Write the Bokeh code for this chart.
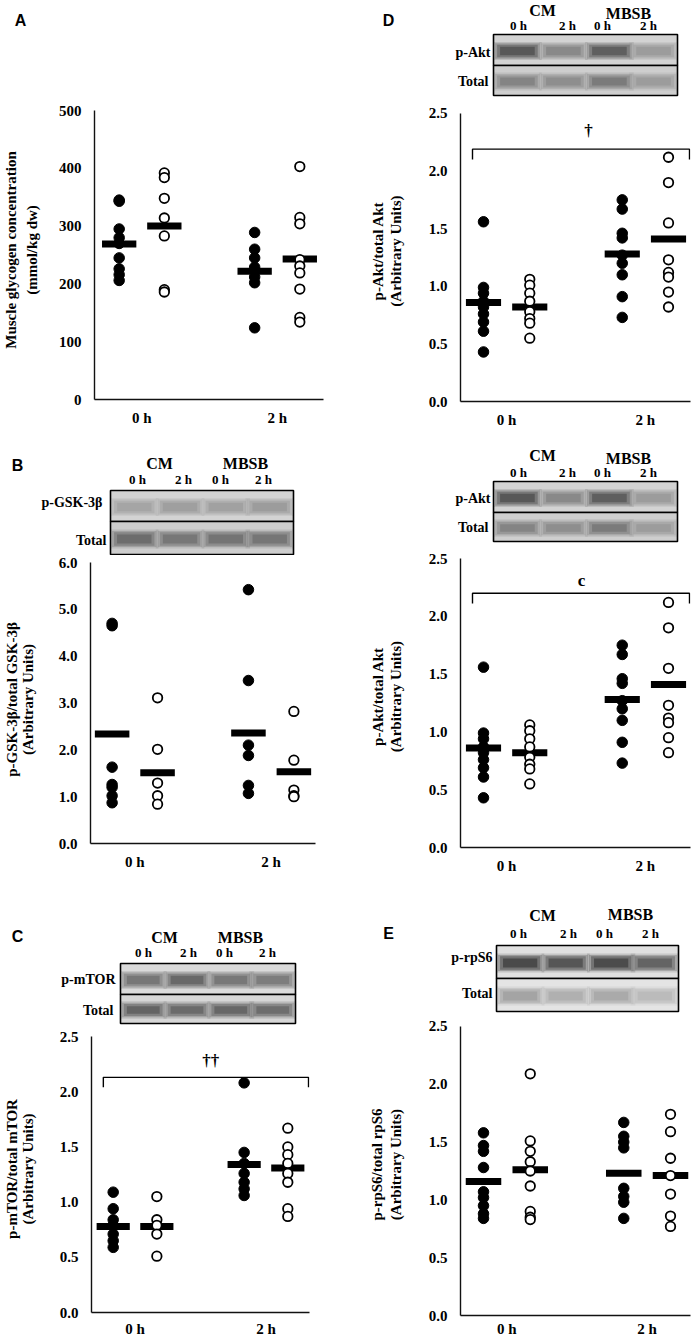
import math
from bokeh.plotting import figure
from bokeh.models import Range1d, FixedTicker, Label, NumeralTickFormatter
from bokeh.layouts import column, row
from bokeh.embed import file_html
from bokeh.resources import INLINE

# ---------------- data ----------------
groups = ["CM 0 h", "MBSB 0 h", "CM 2 h", "MBSB 2 h"]
time_labels = ["0 h", "2 h"]

# A: muscle glycogen (mmol/kg dw)
a_cm_0 = [345, 343, 295, 280, 270, 245, 226, 216, 206]
a_mb_0 = [392, 384, 348, 314, 283, 190, 186]
a_cm_2 = [289, 260, 245, 229, 212, 202, 124]
a_mb_2 = [403, 315, 304, 242, 231, 219, 191, 142, 134]
a_means = [269, 300, 222, 243]
a_ticks = [0, 100, 200, 300, 400, 500]

# B: p-GSK-3b / total GSK-3b
b_cm_0 = [4.70, 4.65, 1.63, 1.26, 1.20, 1.02, 0.87]
b_mb_0 = [3.11, 2.01, 1.29, 1.02, 0.84]
b_cm_2 = [5.42, 3.48, 2.10, 1.88, 1.24, 1.07]
b_mb_2 = [2.82, 1.78, 1.14, 1.02, 1.00]
b_means = [2.34, 1.51, 2.36, 1.53]
b_ticks = [0, 1, 2, 3, 4, 5, 6]

# C: p-mTOR / total mTOR
c_cm_0 = [1.09, 0.94, 0.84, 0.79, 0.71, 0.65, 0.59]
c_mb_0 = [1.05, 0.84, 0.79, 0.71, 0.51]
c_cm_2 = [2.08, 1.45, 1.35, 1.26, 1.18, 1.12, 1.06]
c_mb_2 = [1.67, 1.50, 1.43, 1.35, 1.26, 1.18, 0.94, 0.87]
c_means = [0.78, 0.78, 1.34, 1.31]

# D: p-Akt / total Akt
d_cm_0 = [1.56, 0.99, 0.94, 0.87, 0.82, 0.76, 0.69, 0.61, 0.43]
d_mb_0 = [1.06, 1.01, 0.94, 0.87, 0.78, 0.72, 0.68, 0.55]
d_cm_2 = [1.75, 1.67, 1.46, 1.42, 1.27, 1.20, 1.10, 0.91, 0.73]
d_mb_2 = [2.12, 1.90, 1.55, 1.23, 1.12, 1.08, 0.95, 0.82]
d_means = [0.86, 0.82, 1.28, 1.41]

# E: p-rpS6 / total rpS6
e_cm_0 = [1.58, 1.47, 1.42, 1.28, 1.07, 1.02, 0.95, 0.88, 0.84]
e_mb_0 = [2.09, 1.51, 1.42, 1.33, 1.25, 1.12, 0.90, 0.85, 0.83]
e_cm_2 = [1.67, 1.55, 1.50, 1.45, 1.10, 1.03, 0.98, 0.84]
e_mb_2 = [1.74, 1.59, 1.36, 1.21, 1.05, 0.86, 0.77]
e_means = [1.16, 1.26, 1.23, 1.21]
ratio_ticks = [0, 0.5, 1.0, 1.5, 2.0, 2.5]

# ---------------- styling / layout ----------------
SERIF = "Liberation Serif"
SANS = "Liberation Sans"
XPOS = [1, 2, 4, 5]
FILLED = [True, False, True, False]
LANE_FRACS = [0.13, 0.38, 0.63, 0.87]


def lbl(p, text, x, y, size="13px", align="center", font=SERIF, yr="default",
        xr="default", style="bold"):
    p.add_layout(Label(x=x, y=y, text=text, x_range_name=xr, y_range_name=yr,
                       text_font=font, text_font_style=style,
                       text_font_size=size, text_align=align,
                       text_baseline="middle", text_color="black"))


def make_decor(ox, oy, W, H, letter=None, b=None):
    """Strip above a chart holding the panel letter and the western blot."""
    p = figure(width=W, height=H, x_range=Range1d(ox, ox + W), y_range=Range1d(oy + H, oy),
               x_axis_type=None, y_axis_type=None, output_backend="svg",
               toolbar_location=None, min_border=0, frame_align=False)
    p.grid.visible = False
    p.outline_line_color = None
    if letter:
        L, lx, ly = letter
        lbl(p, L, lx, ly, size="16px", font=SANS)
    if b is None:
        return p
    x0, x1 = b["x"]
    ya, yb, yc = b["y"]
    strips = [((ya, yb), b["top"], b["bg"][0]), ((yb, yc), b["bot"], b["bg"][1])]
    for (t, bt), bands, bg in strips:
        p.quad(left=[x0], right=[x1], top=[t], bottom=[bt], fill_color=bg, line_color=None)
        cy = (t + bt) / 2 + 1
        h = (bt - t) * 0.36
        w = 0.21 * (x1 - x0)
        cxs = [x0 + f * (x1 - x0) for f in LANE_FRACS]
        # soft band edges: several translucent layers, darkest in the middle
        for grow, alpha in [(5, 0.18), (3, 0.3), (1, 0.45), (-2, 0.8)]:
            p.quad(left=[c - w / 2 - grow for c in cxs], right=[c + w / 2 + grow for c in cxs],
                   top=[cy - h / 2 - grow * 0.7] * 4, bottom=[cy + h / 2 + grow * 0.7] * 4,
                   fill_color=bands, fill_alpha=alpha, line_color=None)
        p.quad(left=[x0], right=[x1], top=[t], bottom=[bt], fill_color=None,
               line_color="black", line_width=1.6)
    l1, l1x, l1y, l2, l2x, l2y = b["labels"]
    lbl(p, l1, l1x, l1y, size="14px", align="right")
    lbl(p, l2, l2x, l2y, size="14px", align="right")
    lbl(p, "CM", b["cm"][0], b["cm"][1], size="16px")
    lbl(p, "MBSB", b["mbsb"][0], b["mbsb"][1], size="16px")
    for lx, t in zip(b["lanes_x"], ["0 h", "2 h", "0 h", "2 h"]):
        lbl(p, t, lx, b["lanes_y"], size="13px")
    return p


def make_chart(s):
    ox, oy, W, H = s["box"]
    fl, fr, ft, fb = s["frame"]
    y0px, ytop, ytop_px = s["yscale"]
    xa, xb = s["xpx"]
    sy = (y0px - ytop_px) / ytop
    sx = (xb - xa) / 4.0
    p = figure(width=W, height=H,
               x_range=Range1d(1 + (fl - xa) / sx, 1 + (fr - xa) / sx),
               y_range=Range1d((y0px - fb) / sy, (y0px - ft) / sy),
               output_backend="svg", toolbar_location=None, frame_align=False,
               min_border_left=fl - ox, min_border_right=ox + W - fr,
               min_border_top=ft - oy, min_border_bottom=oy + H - fb)
    p.extra_x_ranges = {"px": Range1d(fl, fr)}
    p.grid.visible = False
    p.outline_line_color = None

    for ax in (p.xaxis[0], p.yaxis[0]):
        ax.axis_line_color = "#111111"
        ax.axis_line_width = 1.4
        ax.major_tick_line_color = None
        ax.minor_tick_line_color = None
        ax.major_tick_out = 0
        ax.major_tick_in = 0
        ax.minor_tick_out = 0
        ax.major_label_text_font = SERIF
        ax.major_label_text_font_style = "bold"
        ax.major_label_text_font_size = "15px"
        ax.major_label_text_color = "black"
    p.yaxis.bounds = (0, ytop)
    p.yaxis.ticker = FixedTicker(ticks=s["yticks"])
    p.yaxis.formatter = NumeralTickFormatter(format=s["fmt"])
    p.yaxis.major_label_standoff = 13
    p.yaxis.axis_label = s["title"]
    p.yaxis.axis_label_text_font = SERIF
    p.yaxis.axis_label_text_font_style = "bold"
    p.yaxis.axis_label_text_font_size = "15px"
    p.yaxis.axis_label_text_line_height = s.get("title_lh", 1.1)
    p.yaxis.axis_label_text_color = "black"
    p.yaxis.axis_label_standoff = s.get("title_standoff", 16)
    p.xaxis.ticker = FixedTicker(ticks=[1.5, 4.5])
    p.xaxis.major_label_overrides = {1.5: time_labels[0], 4.5: time_labels[1]}
    p.xaxis.major_label_standoff = s.get("x_standoff", 10)

    # mean bars, then points
    p.segment(x0=[x - 0.38 for x in XPOS], x1=[x + 0.38 for x in XPOS],
              y0=s["means"], y1=s["means"], line_width=7, line_color="black",
              line_cap="butt")
    for xp, vals, fill in zip(XPOS, s["series"], FILLED):
        if fill:
            p.scatter(x=[xp] * len(vals), y=vals, marker="circle", size=10.5,
                      fill_color="black", line_color="black", line_width=1)
        else:
            p.scatter(x=[xp] * len(vals), y=vals, marker="circle", size=9.5,
                      fill_color="white", line_color="black", line_width=1.8)

    br = s.get("bracket")
    if br:
        bx0, bx1 = br["x"]
        yt, ye = br["y"]
        p.line(x=[bx0, bx0, bx1, bx1], y=[ye, yt, yt, ye], x_range_name="px",
               line_color="black", line_width=1.4)
        lbl(p, br["mark"], br["mark_pos"][0], br["mark_pos"][1], size="17px", xr="px")
    return p


# ---------------- panels (positions in page pixels) ----------------
LW, RW = 345, 350

dA = make_decor(0, 0, LW, 100, letter=("A", 20, 20))
cA = make_chart(dict(box=(0, 100, LW, 330), frame=(91, 323, 100, 399), yscale=(399, 500, 110),
                     xpx=(116, 299), yticks=a_ticks, fmt="0",
                     series=[a_cm_0, a_mb_0, a_cm_2, a_mb_2], means=a_means,
                     title="Muscle glycogen concentration\n(mmol/kg dw)",
                     title_standoff=16, title_lh=1.3))

dB = make_decor(0, 430, LW, 125, letter=("B", 17, 465),
                b=dict(x=(110, 293), y=(490, 521, 554),
                       labels=("p-GSK-3β", 102, 502, "Total", 106, 540),
                       cm=(159, 463), mbsb=(245, 463), lanes_y=479,
                       lanes_x=[137, 183, 220, 263],
                       bg=("#d3d3d3", "#cdcdcd"),
                       top=["#a2a2a2", "#9c9c9c", "#9e9e9e", "#989898"],
                       bot=["#666666", "#727272", "#6e6e6e", "#707070"]))
cB = make_chart(dict(box=(0, 555, LW, 325), frame=(86, 315, 555, 843), yscale=(843, 6.0, 562),
                     xpx=(108, 293), yticks=b_ticks, fmt="0.0",
                     series=[b_cm_0, b_mb_0, b_cm_2, b_mb_2], means=b_means,
                     title="p-GSK-3β/total GSK-3β\n(Arbitrary Units)",
                     title_standoff=20, title_lh=1.0))

dC = make_decor(0, 880, LW, 145, letter=("C", 17, 936),
                b=dict(x=(120, 295), y=(963, 994, 1023),
                       labels=("p-mTOR", 115, 979, "Total", 113, 1010),
                       cm=(164, 937), mbsb=(240, 937), lanes_y=952,
                       lanes_x=[143, 188, 224, 267],
                       bg=("#dadada", "#d6d6d6"),
                       top=["#707070", "#626262", "#727272", "#777777"],
                       bot=["#5c5c5c", "#646464", "#606060", "#666666"]))
cC = make_chart(dict(box=(0, 1025, LW, 314), frame=(88, 309, 1025, 1312), yscale=(1312, 2.5, 1036),
                     xpx=(110, 287), yticks=ratio_ticks, fmt="0.0",
                     series=[c_cm_0, c_mb_0, c_cm_2, c_mb_2], means=c_means,
                     title="p-mTOR/total mTOR\n(Arbitrary Units)",
                     title_standoff=21, title_lh=1.0, x_standoff=8,
                     bracket=dict(x=(100, 308), y=(2.13, 2.04), mark="††", mark_pos=(209, 2.28))))

akt_colors = dict(bg=("#d3d3d3", "#cecece"),
                  top=["#505050", "#858585", "#585858", "#989898"],
                  bot=["#808080", "#8a8a8a", "#767676", "#989898"])

dD = make_decor(345, 0, RW, 100, letter=("D", 388, 20),
                b=dict(x=(493, 677), y=(34, 65, 95),
                       labels=("p-Akt", 490, 52, "Total", 488, 81),
                       cm=(542, 10), mbsb=(628, 13), lanes_y=25,
                       lanes_x=[518, 567, 602, 648], **akt_colors))
cD = make_chart(dict(box=(345, 100, RW, 330), frame=(460, 690, 100, 402), yscale=(402, 2.5, 113),
                     xpx=(483, 668), yticks=ratio_ticks, fmt="0.0",
                     series=[d_cm_0, d_mb_0, d_cm_2, d_mb_2], means=d_means,
                     title="p-Akt/total Akt\n(Arbitrary Units)",
                     title_standoff=22, title_lh=1.1,
                     bracket=dict(x=(472, 689), y=(2.19, 2.10), mark="†", mark_pos=(588, 2.35))))

dD2 = make_decor(345, 430, RW, 115,
                 b=dict(x=(493, 677), y=(481, 512, 541),
                        labels=("p-Akt", 490, 498, "Total", 488, 527),
                        cm=(542, 455), mbsb=(628, 458), lanes_y=472,
                        lanes_x=[518, 567, 602, 648], **akt_colors))
cD2 = make_chart(dict(box=(345, 545, RW, 335), frame=(460, 690, 545, 847), yscale=(847, 2.5, 558),
                      xpx=(483, 668), yticks=ratio_ticks, fmt="0.0",
                      series=[d_cm_0, d_mb_0, d_cm_2, d_mb_2], means=d_means,
                      title="p-Akt/total Akt\n(Arbitrary Units)",
                      title_standoff=22, title_lh=1.1,
                      bracket=dict(x=(472, 689), y=(2.20, 2.11), mark="c", mark_pos=(581, 2.31))))

dE = make_decor(345, 880, RW, 133, letter=("E", 388, 933),
                b=dict(x=(496, 678), y=(945, 978, 1011),
                       labels=("p-rpS6", 492, 957, "Total", 492, 993),
                       cm=(542, 915), mbsb=(630, 914), lanes_y=933,
                       lanes_x=[518, 568, 604, 650],
                       bg=("#e0e0e0", "#e4e4e4"),
                       top=["#404040", "#4e4e4e", "#424242", "#5c5c5c"],
                       bot=["#a0a0a0", "#adadad", "#a6a6a6", "#b8b8b8"]))
cE = make_chart(dict(box=(345, 1013, RW, 326), frame=(460, 690, 1013, 1316), yscale=(1316, 2.5, 1026),
                     xpx=(483, 670), yticks=ratio_ticks, fmt="0.0",
                     series=[e_cm_0, e_mb_0, e_cm_2, e_mb_2], means=e_means,
                     title="p-rpS6/total rpS6\n(Arbitrary Units)",
                     title_standoff=22, title_lh=1.2, x_standoff=5))

layout = row(column(dA, cA, dB, cB, dC, cC), column(dD, cD, dD2, cD2, dE, cE))
open("out.html", "w").write(file_html(layout, INLINE))
